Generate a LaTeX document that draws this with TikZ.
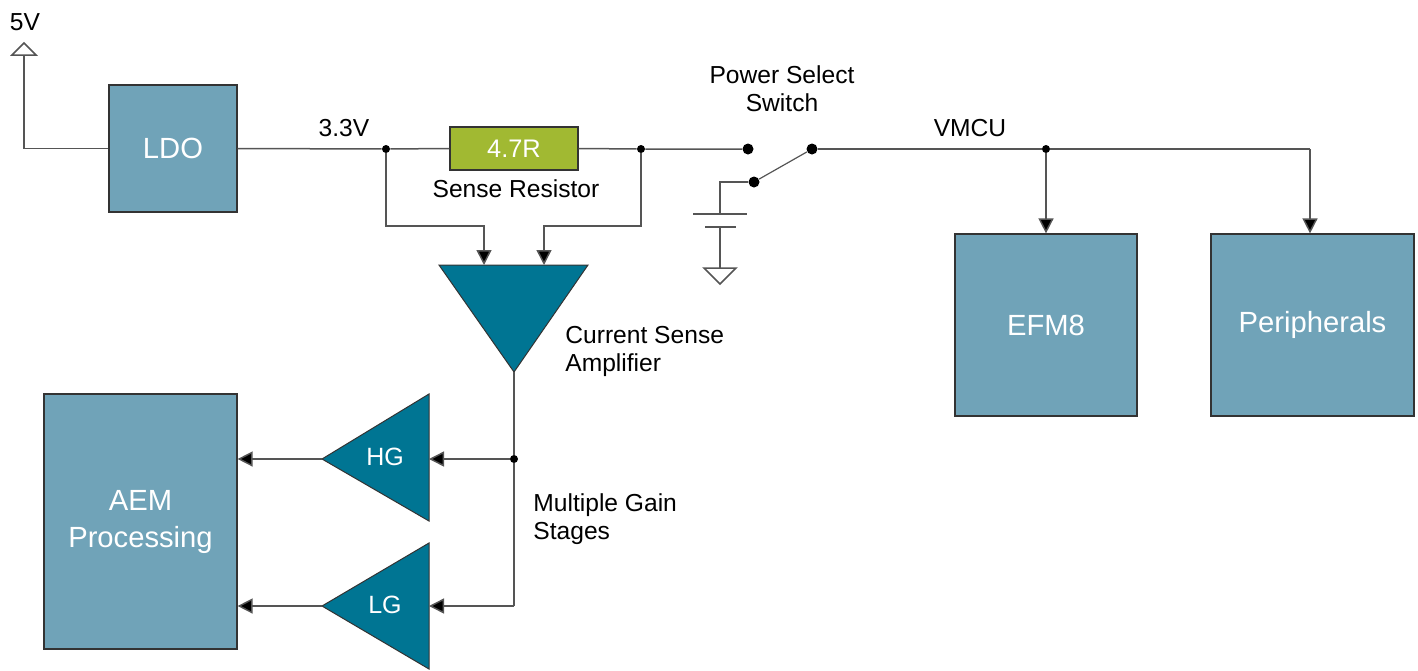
\documentclass[tikz,border=0pt]{standalone}
\usepackage{fontspec}
\setmainfont{Liberation Sans}
\usetikzlibrary{arrows.meta}
\definecolor{boxfill}{RGB}{112,163,184}
\definecolor{ampfill}{RGB}{0,117,147}
\definecolor{resfill}{RGB}{161,185,50}
\definecolor{wire}{RGB}{85,85,85}
\tikzset{
  blk/.style={draw=black!80,line width=0.6pt,fill=boxfill,text=white,font=\fontsize{14.6}{18.5}\selectfont,align=center,inner sep=0pt},
  amp/.style={draw=black!80,line width=0.5pt,fill=ampfill},
  wr/.style={draw=wire,line width=0.75pt},
  arr/.style={wr,-{Triangle[length=7.5pt,width=7.5pt,fill=black]}},
  lbl/.style={font=\fontsize{12.3}{14}\selectfont,inner sep=0pt},
  dotn/.style={circle,fill=black,inner sep=0pt,minimum size=4pt},
  sdot/.style={circle,fill=black,inner sep=0pt,minimum size=5.5pt},
}
\begin{document}
\begin{tikzpicture}[x=0.5pt,y=-0.5pt]
\useasboundingbox (0,0) rectangle (1418,670);
% boxes
\node[blk,minimum width=64pt,minimum height=63.5pt] (ldo) at (173,148.5) {LDO};
\node[blk,minimum width=96.5pt,minimum height=127.5pt] (aem) at (140.5,521.5) {AEM\\Processing};
\node[blk,minimum width=91pt,minimum height=91pt] (efm) at (1046,325) {EFM8};
\node[blk,minimum width=101.5pt,minimum height=91pt] (per) at (1312.5,325) {Peripherals};
\node[draw=black!80,line width=0.6pt,fill=resfill,text=white,font=\fontsize{12.7}{14}\selectfont,minimum width=64pt,minimum height=21.5pt,inner sep=0pt] (res) at (514,148.5) {4.7R};
% 5V source
\coordinate (v5) at (24,55);
\node[lbl,anchor=south] (t5v) at (25,31) {5V};
\draw[wr,fill=white] (12,55) -- (24,43) -- (36,55) -- cycle;
\draw[wr] (v5) |- (ldo.west);
% main rail
\node[dotn] (d1) at (386,149) {};
\node[dotn] (d2) at (641,149) {};
\node[sdot] (s1) at (748,149) {};
\node[sdot] (s2) at (812,149) {};
\node[sdot] (s3) at (754,182) {};
\node[dotn] (d3) at (1046,149) {};
\draw[wr] (ldo.east) -- (d1) -- (res.west);
\draw[wr] (res.east) -- (d2) -- (s1);
\draw[wr] (s2) -- (d3) -- (1310,149) coordinate (pc);
\draw[wr,line width=0.6pt] (s3) -- (s2);
\node[lbl,anchor=base] (t33) at (344,136) {3.3V};
\node[lbl,anchor=base] (tsr) at (516,197) {Sense Resistor};
\node[lbl,align=center] (tps) at (782,89) {Power Select\\Switch};
\node[lbl,anchor=base] (tvm) at (970,136) {VMCU};
% battery / ground
\coordinate (bt) at (720,182);
\coordinate (bp1) at (720,214);
\coordinate (bp2) at (720,227);
\coordinate (gt) at (720,268);
\draw[wr] (s3) -- (bt) -- (bp1);
\draw[wr] (693,214) -- (747,214);
\draw[wr] (705,227) -- (736,227);
\draw[wr] (bp2) -- (gt);
\draw[wr,fill=white] (704,268) -- (736,268) -- (720,284) -- cycle;
% loads
\draw[arr] (d3) -- (d3 |- efm.north);
\draw[arr] (pc) -- (pc |- per.north);
% current sense amplifier
\draw[amp] (439,265) -- (588,265) -- (514,372) -- cycle;
\coordinate (ain1) at (484,265);
\coordinate (ain2) at (544,265);
\coordinate (aout) at (514,372);
\draw[arr] (d1) |- (484,226) -- (ain1);
\draw[arr] (d2) |- (544,226) -- (ain2);
\node[lbl,anchor=west,align=left] (tca) at (565,351) {Current Sense\\Amplifier};
% gain stages
\draw[amp] (429,394) -- (429,521) -- (322,459) -- cycle;
\draw[amp] (429,543) -- (429,669) -- (322,606) -- cycle;
\node[text=white,font=\fontsize{12.5}{14}\selectfont] (hg) at (385,457) {HG};
\node[text=white,font=\fontsize{12.5}{14}\selectfont] (lg) at (385,605) {LG};
\coordinate (hgin) at (429,459);
\coordinate (lgin) at (429,606);
\coordinate (hgout) at (322,459);
\coordinate (lgout) at (322,606);
\node[dotn] (d4) at (514,459) {};
\draw[wr] (aout) -- (d4) -- (514,606) coordinate (gc);
\draw[arr] (d4) -- (hgin);
\draw[arr] (gc) -- (lgin);
\draw[arr] (hgout) -- (aem.east |- hgout);
\draw[arr] (lgout) -- (aem.east |- lgout);
\node[lbl,anchor=west,align=left] (tmg) at (533,519) {Multiple Gain\\Stages};
\end{tikzpicture}
\end{document}
